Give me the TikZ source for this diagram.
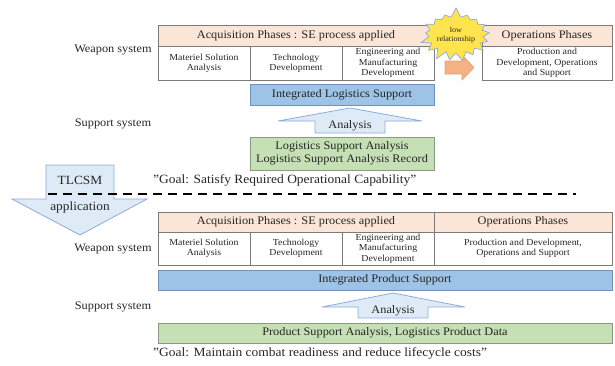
\documentclass[tikz,border=0pt]{standalone}
\usepackage{fontspec}
\setmainfont[FakeStretch=1.07]{Liberation Serif}
\usetikzlibrary{shapes.symbols}
\definecolor{peach}{HTML}{FBE5D6}
\definecolor{ilsblue}{HTML}{9DC3E6}
\definecolor{ilsline}{HTML}{6F93B8}
\definecolor{lgreen}{HTML}{C5E0B4}
\definecolor{gline}{HTML}{8A9A80}
\definecolor{boxline}{HTML}{7A7A7A}
\definecolor{arrfill}{HTML}{DEEBF7}
\definecolor{arrline}{HTML}{8FAADC}
\definecolor{orangef}{HTML}{F4B183}
\definecolor{oline}{HTML}{E9A070}
\definecolor{staryel}{HTML}{FFE44D}
\definecolor{textc}{HTML}{262626}
\begin{document}
\begin{tikzpicture}[x=1pt,y=-1pt,
  bx/.style={draw=boxline, line width=0.9pt, inner sep=1pt, outer sep=0pt, align=center, anchor=north west, text=textc},
  hdr/.style={bx, fill=peach, font=\fontsize{11.5}{13}\selectfont},
  cell/.style={bx, fill=white, font=\fontsize{9.2}{10.4}\selectfont},
  ilsbox/.style={bx, fill=ilsblue, draw=ilsline, font=\fontsize{11.5}{13}\selectfont},
  grbox/.style={bx, fill=lgreen, draw=gline, font=\fontsize{11.5}{13}\selectfont},
  side/.style={text=textc, font=\fontsize{11.5}{13}\selectfont},
  goal/.style={text=textc, anchor=west, inner sep=0pt, font=\fontsize{12.6}{14}\selectfont},
  bigarrow/.style={fill=arrfill, draw=arrline, line width=0.8pt, line join=miter},
  arrtext/.style={text=textc, font=\fontsize{11.5}{13}\selectfont, inner sep=0pt}
]
\useasboundingbox (0,0) rectangle (615,365);

% ---------- top section ----------
\node[side] (ws1) at (113,50) {Weapon system};
\node[side] (ss1) at (113,124) {Support system};

\node[hdr, minimum width=276pt, minimum height=21pt] (acq1) at (158,25) {Acquisition Phases : SE process applied};
\node[cell, minimum width=92pt, minimum height=34pt] (c11) at (158,46) {Materiel Solution\\Analysis};
\node[cell, minimum width=92pt, minimum height=34pt] (c12) at (250,46) {Technology\\Development};
\node[cell, minimum width=92pt, minimum height=34pt] (c13) at (342,46) {Engineering and\\Manufacturing\\Development};

\node[hdr, minimum width=130pt, minimum height=21pt] (ops1) at (482,25) {Operations Phases};
\node[cell, minimum width=130pt, minimum height=34pt] (ob1) at (482,46) {Production and\\Development, Operations\\and Support};

\node[ilsbox, minimum width=184pt, minimum height=21pt] (ils) at (250,84) {Integrated Logistics Support};

\draw[bigarrow] (315,133) -- (315,121) -- (278,121) -- (350,108) -- (422,121) -- (385,121) -- (385,133) -- cycle;
\node[arrtext] (an1) at (350,126) {Analysis};

\node[grbox, minimum width=184pt, minimum height=33pt] (lsa) at (250,137) {Logistics Support Analysis\\Logistics Support Analysis Record};

\node[goal] (goal1) at (153,180) {"Goal: Satisfy Required Operational Capability"};

% orange arrow
\draw[fill=orangef, draw=oline, line width=0.6pt, line join=miter] (445,61) -- (462,61) -- (462,55) -- (474,67.5) -- (462,80) -- (462,74) -- (445,74) -- cycle;

% star
\node[starburst, random starburst=7, starburst point height=10pt, fill=staryel, draw=arrline, line width=0.7pt,
      minimum width=58pt, minimum height=56pt, inner sep=0pt, text=textc, align=center,
      font=\fontsize{7.6}{9}\selectfont] (star) at (456,35) {low\\relationship};

% ---------- TLCSM arrow ----------
\draw[bigarrow] (46,165) -- (114,165) -- (114,199) -- (147,199) -- (80,235) -- (12,199) -- (46,199) -- cycle;
\node[arrtext, font=\fontsize{12.5}{14}\selectfont] (tl) at (80,180) {TLCSM};
\node[arrtext, font=\fontsize{12.5}{14}\selectfont] (app) at (80,207) {application};

\coordinate (d1) at (48,194);
\coordinate (d2) at (576,194);
\draw[line width=2.6pt, dash pattern=on 9pt off 6pt] (d1) -- (d2);

% ---------- bottom section ----------
\node[side] (ws2) at (113,249) {Weapon system};
\node[side] (ss2) at (113,307) {Support system};

\node[hdr, minimum width=276pt, minimum height=20pt] (acq2) at (158,212) {Acquisition Phases : SE process applied};
\node[hdr, minimum width=178pt, minimum height=20pt] (ops2) at (434,212) {Operations Phases};
\node[cell, minimum width=92pt, minimum height=33pt] (c21) at (158,232) {Materiel Solution\\Analysis};
\node[cell, minimum width=92pt, minimum height=33pt] (c22) at (250,232) {Technology\\Development};
\node[cell, minimum width=92pt, minimum height=33pt] (c23) at (342,232) {Engineering and\\Manufacturing\\Development};
\node[cell, minimum width=178pt, minimum height=33pt] (c24) at (434,232) {Production and Development,\\Operations and Support};

\node[ilsbox, minimum width=454pt, minimum height=20pt] (ips) at (158,270) {Integrated Product Support};

\draw[bigarrow] (358,318) -- (358,307) -- (322,307) -- (393,293) -- (465,307) -- (428,307) -- (428,318) -- cycle;
\node[arrtext] (an2) at (393,311) {Analysis};

\node[grbox, minimum width=454pt, minimum height=20pt] (psa) at (158,323) {Product Support Analysis, Logistics Product Data};

\node[goal] (goal2) at (153,353) {"Goal: Maintain combat readiness and reduce lifecycle costs"};
\end{tikzpicture}
\end{document}
